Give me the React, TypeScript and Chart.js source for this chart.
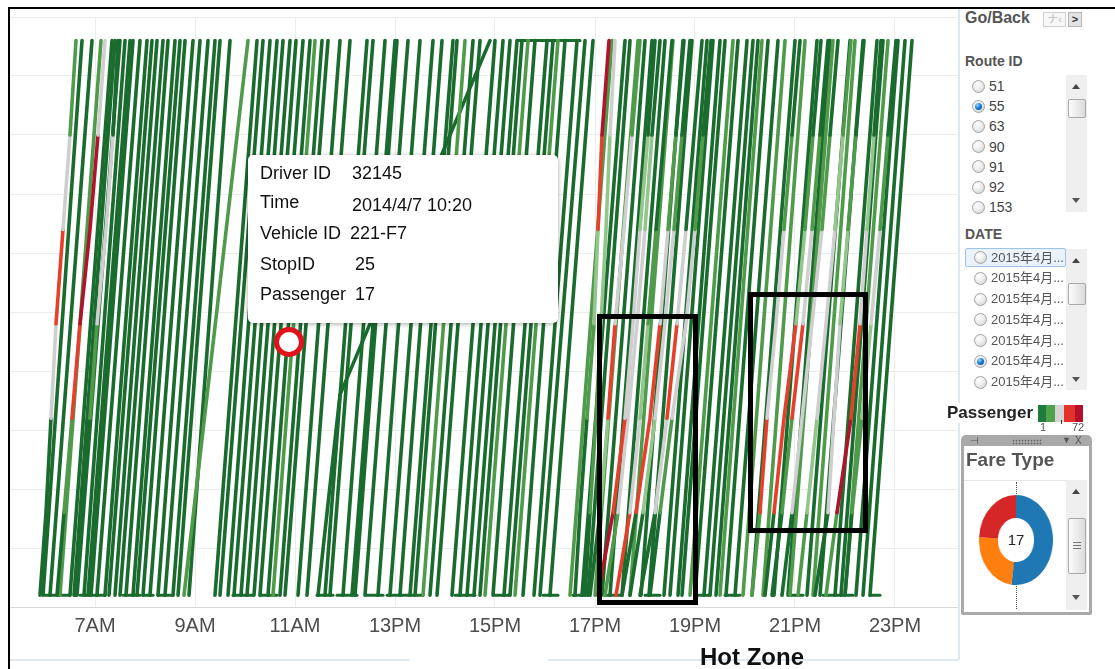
import React, { useEffect, useRef } from 'react';
import { Chart, registerables } from 'chart.js';

Chart.register(...registerables);

const FONT = '"Liberation Sans", Arial, "Noto Sans CJK SC", sans-serif';
Chart.defaults.font.family = FONT;

// ---------------- data ----------------
const hourTicks = [7, 9, 11, 13, 15, 17, 19, 21, 23];
const hourLabels = ['7AM', '9AM', '11AM', '13PM', '15PM', '17PM', '19PM', '21PM', '23PM'];

const FIRST_STOP = 1;
const LAST_STOP = 48;

// [depart hour at first stop, arrive hour at last stop]
const darkTrips: [number, number][] = [
  [5.96, 6.74], [6.10, 6.94], [6.50, 7.34], [6.58, 7.40], [6.64, 7.50], [6.78, 7.60], [6.86, 7.70],
  [6.92, 7.76], [7.04, 7.90], [7.20, 8.04], [7.28, 8.14], [7.40, 8.24], [7.50, 8.36], [7.62, 8.46],
  [7.76, 8.60], [7.84, 8.70], [7.96, 8.80], [8.10, 8.96], [8.26, 9.10], [8.40, 9.26], [8.56, 9.40],
  [8.66, 9.50], [8.88, 9.70], [9.40, 10.24], [9.50, 10.36], [9.66, 10.50], [9.78, 10.64], [9.92, 10.76],
  [10.04, 10.90], [10.18, 11.02], [10.30, 11.16], [10.46, 11.30], [10.70, 11.54], [10.80, 11.66],
  [11.06, 11.90], [11.24, 12.10], [11.60, 12.44], [11.70, 12.56], [11.96, 12.80], [12.14, 13.00],
  [12.20, 13.04], [12.40, 13.26], [12.66, 13.50], [12.90, 13.76], [13.10, 13.94], [13.30, 14.16],
  [13.40, 14.24], [13.70, 14.56], [13.84, 14.70], [14.14, 15.00], [14.30, 15.16], [14.44, 15.30],
  [14.58, 15.44], [14.70, 15.54], [14.96, 15.80], [15.18, 16.04], [15.30, 16.16], [15.56, 16.40],
  [15.78, 16.64], [15.90, 16.80], [16.10, 16.96],
  [16.74, 17.60], [16.86, 17.70], [17.14, 18.00], [17.30, 18.14], [17.54, 18.40], [17.92, 18.76],
  [18.08, 18.94], [18.38, 19.24], [18.50, 19.36], [18.66, 19.50], [18.74, 19.60], [19.00, 19.86],
  [19.18, 20.04], [19.30, 20.16], [19.42, 20.26], [19.62, 20.46], [19.80, 20.66], [20.14, 21.00],
  [20.58, 21.44], [20.86, 21.70], [21.24, 22.10], [21.50, 22.36], [21.80, 22.64], [21.92, 22.76],
  [22.22, 23.06], [22.36, 23.20], [22.50, 23.34],
];

const midTrips: [number, number][] = [
  [6.30, 7.12], [8.78, 10.06], [10.56, 11.40], [13.56, 14.40], [14.80, 15.66], [15.40, 16.26],
  [16.50, 17.34], [17.00, 17.86], [17.70, 18.56], [18.90, 19.76], [19.50, 20.34], [19.96, 20.80],
  [20.36, 21.20], [20.90, 21.76], [21.36, 22.20], [22.00, 22.86],
];

// a slow trip: [hour, stop]
const slowTrip: [number, number][] = [[11.46, 1], [11.90, 18], [14.90, 48]];

// vehicles waiting at a terminal: [from hour, to hour]
const bottomLayovers: [number, number][] = [
  [6.0, 6.5], [6.7, 7.2], [7.56, 7.9], [7.96, 8.16], [8.26, 8.56], [9.76, 10.16], [10.3, 10.64],
  [11.44, 11.76], [11.84, 12.24], [12.44, 12.76], [12.84, 13.56], [14.2, 14.6], [15.0, 15.3],
  [15.96, 16.26], [16.56, 16.84], [17.2, 17.5], [18.0, 18.3], [19.0, 19.3], [19.6, 19.9],
  [20.9, 21.16], [21.56, 22.16], [22.5, 22.7],
];
const topLayovers: [number, number][] = [[15.44, 16.70]];

// crowded trips, hour when passing each checkpoint stop, and load shade per leg
const hotStops = [1, 8, 16, 24, 32, 40, 48];
const hotTripHours: number[][] = [
  [5.90, 6.02, 6.12, 6.22, 6.36, 6.50, 6.62],
  [6.24, 6.38, 6.54, 6.70, 6.90, 7.06, 7.20],
  [6.60, 6.74, 6.90, 7.04, 7.22, 7.36, 7.46],
  [17.06, 17.36, 17.60, 17.76, 17.90, 18.06, 18.20],
  [16.60, 16.70, 16.84, 16.98, 17.06, 17.14, 17.28],
  [16.80, 16.90, 17.02, 17.12, 17.22, 17.30, 17.40],
  [17.54, 17.82, 18.10, 18.30, 18.46, 18.62, 18.78],
  [17.42, 17.70, 17.90, 18.06, 18.22, 18.38, 18.54],
  [17.90, 18.20, 18.44, 18.64, 18.82, 18.98, 19.14],
  [18.10, 18.30, 18.54, 18.82, 19.00, 19.16, 19.32],
  [16.90, 17.10, 17.26, 17.40, 17.58, 17.74, 17.90],
  [17.20, 17.46, 17.66, 17.84, 18.00, 18.14, 18.30],
  [17.70, 17.96, 18.20, 18.40, 18.58, 18.74, 18.90],
  [20.14, 20.30, 20.44, 20.62, 20.78, 20.94, 21.10],
  [20.40, 20.58, 20.78, 21.02, 21.20, 21.36, 21.52],
  [20.54, 20.74, 20.94, 21.16, 21.34, 21.50, 21.66],
  [21.62, 21.84, 22.12, 22.30, 22.44, 22.58, 22.72],
  [20.74, 20.94, 21.14, 21.34, 21.54, 21.70, 21.86],
  [21.40, 21.66, 21.78, 21.90, 22.06, 22.22, 22.38],
  [22.00, 22.14, 22.34, 22.52, 22.70, 22.86, 23.02],
  [21.06, 21.24, 21.44, 21.62, 21.80, 21.96, 22.12],
];
const hotTripShades: string[][] = [
  ['dg', 'dg', 'gray', 'red', 'gray', 'mg'],
  ['dg', 'mg', 'red', 'darkred', 'darkred', 'gray'],
  ['dg', 'dg', 'mg', 'gray', 'gray', 'dg'],
  ['darkred', 'red', 'gray', 'gray', 'lg', 'dg'],
  ['dg', 'dg', 'mg', 'lg', 'red', 'darkred'],
  ['dg', 'mg', 'mg', 'lg', 'lg', 'gray'],
  ['dg', 'red', 'red', 'gray', 'mg', 'dg'],
  ['red', 'gray', 'lg', 'mg', 'dg', 'dg'],
  ['dg', 'gray', 'red', 'gray', 'dg', 'dg'],
  ['dg', 'mg', 'gray', 'gray', 'mg', 'dg'],
  ['dg', 'lg', 'red', 'gray', 'gray', 'mg'],
  ['mg', 'gray', 'gray', 'gray', 'lg', 'dg'],
  ['dg', 'lg', 'gray', 'gray', 'mg', 'dg'],
  ['mg', 'red', 'gray', 'gray', 'mg', 'dg'],
  ['dg', 'red', 'red', 'lg', 'mg', 'dg'],
  ['dg', 'mg', 'red', 'gray', 'mg', 'dg'],
  ['mg', 'darkred', 'red', 'gray', 'lg', 'dg'],
  ['dg', 'gray', 'gray', 'gray', 'mg', 'dg'],
  ['dg', 'gray', 'gray', 'lg', 'mg', 'dg'],
  ['dg', 'mg', 'lg', 'gray', 'mg', 'dg'],
  ['mg', 'lg', 'gray', 'gray', 'lg', 'mg'],
];

// [from hour, to hour, from stop, to stop]
const hotZones: [number, number, number, number][] = [
  [17.09, 19.01, 0.38, 24.62],
  [20.11, 22.41, 6.48, 26.48],
];
const highlightPoint = { x: 10.88, y: 22.46 };

const shadeColors: Record<string, string> = {
  dg: '#1a6b2e',
  mg: '#4f9b4b',
  lg: '#93c58d',
  gray: '#cfcfcf',
  red: '#e6402d',
  darkred: '#b0132c',
};
const legendRamp = ['#1e7b3a', '#4ea24b', '#d4d4d4', '#e4322a', '#b3102e'];

const fareTypeLabels = ['Full fare', 'Student', 'Senior'];
const fareTypeValues = [52, 24, 24];
const fareTypeColors = ['#1f77b4', '#ff7f0e', '#d62728'];
const fareTotal = '17';

const routeIds = ['51', '55', '63', '90', '91', '92', '153'];
const selectedRoute = '55';
const dateItems = ['2015年4月...', '2015年4月...', '2015年4月...', '2015年4月...', '2015年4月...', '2015年4月...', '2015年4月...'];
const selectedDate = 5;

const tooltipRows: [string, string][] = [
  ['Driver ID', '32145'],
  ['Time', '2014/4/7 10:20'],
  ['Vehicle ID', '221-F7'],
  ['StopID', '25'],
  ['Passenger', '17'],
];

// ---------------- chart configs ----------------
function lineSet(points: [number, number][], color: string, order: number, width = 3.6): any {
  return {
    type: 'line',
    data: points.map(([x, y]) => ({ x, y })),
    borderColor: color,
    borderWidth: width,
    pointRadius: 0,
    pointHoverRadius: 0,
    fill: false,
    tension: 0,
    borderCapStyle: 'round',
    borderJoinStyle: 'round',
    order,
  };
}

const hotZonePlugin = {
  id: 'hotZones',
  afterDatasetsDraw(chart: any) {
    const { ctx, scales } = chart;
    const xs = scales.x;
    const ys = scales.y;
    ctx.save();
    ctx.strokeStyle = '#000';
    ctx.lineWidth = 5;
    hotZones.forEach(([h1, h2, s1, s2]) => {
      const x1 = xs.getPixelForValue(h1);
      const x2 = xs.getPixelForValue(h2);
      const y1 = ys.getPixelForValue(s2);
      const y2 = ys.getPixelForValue(s1);
      ctx.strokeRect(x1, y1, x2 - x1, y2 - y1);
    });
    ctx.restore();
  },
};

function mainConfig(): any {
  const datasets: any[] = [];
  datasets.push({
    type: 'line',
    data: [highlightPoint],
    showLine: false,
    pointRadius: 12.5,
    pointHoverRadius: 12.5,
    pointBorderWidth: 5,
    pointBorderColor: '#e2121c',
    pointBackgroundColor: '#ffffff',
    clip: false,
    order: 0,
  });
  hotTripHours.forEach((hours, i) => {
    const shades = hotTripShades[i];
    datasets.push({
      ...lineSet(hours.map((h, k) => [h, hotStops[k]] as [number, number]), shadeColors.dg, 1),
      segment: { borderColor: (c: any) => shadeColors[shades[c.p0DataIndex]] },
    });
  });
  midTrips.forEach(([d, a]) => datasets.push(lineSet([[d, FIRST_STOP], [a, LAST_STOP]], shadeColors.mg, 2)));
  darkTrips.forEach(([d, a]) => datasets.push(lineSet([[d, FIRST_STOP], [a, LAST_STOP]], shadeColors.dg, 3)));
  datasets.push(lineSet(slowTrip, shadeColors.dg, 3));
  bottomLayovers.forEach(([a, b]) => datasets.push(lineSet([[a, FIRST_STOP], [b, FIRST_STOP]], shadeColors.dg, 3, 3)));
  topLayovers.forEach(([a, b]) => datasets.push(lineSet([[a, LAST_STOP], [b, LAST_STOP]], shadeColors.dg, 3, 3)));

  return {
    type: 'line',
    data: { datasets },
    options: {
      animation: false,
      responsive: false,
      maintainAspectRatio: false,
      events: [],
      layout: { padding: 0, autoPadding: false },
      plugins: { legend: { display: false }, tooltip: { enabled: false } },
      scales: {
        x: {
          type: 'linear',
          min: 5.3,
          max: 24.26,
          afterBuildTicks: (s: any) => {
            s.ticks = hourTicks.map((v) => ({ value: v }));
          },
          afterFit: (s: any) => {
            s.height = 40;
          },
          ticks: {
            autoSkip: false,
            maxRotation: 0,
            padding: 7,
            color: '#4d4d4d',
            font: { size: 20, family: FONT },
            callback: (_v: any, i: number) => hourLabels[i],
          },
          grid: { color: '#ececec', drawTicks: false, lineWidth: 1 },
          border: { color: '#d8d8d8', width: 1 },
        },
        y: {
          type: 'linear',
          min: 0,
          max: 50,
          afterFit: (s: any) => {
            s.width = 0;
          },
          ticks: { display: false, stepSize: 5 },
          grid: { color: '#ececec', drawTicks: false, lineWidth: 1 },
          border: { display: false },
        },
      },
    },
    plugins: [hotZonePlugin],
  };
}

function donutConfig(): any {
  return {
    type: 'doughnut',
    data: {
      labels: fareTypeLabels,
      datasets: [{ data: fareTypeValues, backgroundColor: fareTypeColors, borderWidth: 0 }],
    },
    options: {
      animation: false,
      responsive: false,
      maintainAspectRatio: false,
      events: [],
      cutout: '49%',
      layout: { padding: 0, autoPadding: false },
      plugins: { legend: { display: false }, tooltip: { enabled: false } },
    },
  };
}

// ---------------- UI pieces ----------------
const abs = (s: React.CSSProperties): React.CSSProperties => ({ position: 'absolute', ...s });

function Radio({ x, y, checked }: { x: number; y: number; checked: boolean }) {
  return (
    <div
      style={abs({
        left: x - 6.5,
        top: y - 6.5,
        width: 13,
        height: 13,
        boxSizing: 'border-box',
        borderRadius: '50%',
        border: '1px solid #a3a3a3',
        background: 'radial-gradient(circle at 35% 30%, #ffffff 0%, #ececec 50%, #c8c8c8 100%)',
      })}
    >
      {checked && (
        <div
          style={abs({
            left: 2,
            top: 2,
            width: 7,
            height: 7,
            borderRadius: '50%',
            background: 'radial-gradient(circle at 35% 30%, #9ad6ff 0%, #1c7fd6 45%, #0a3f8a 100%)',
          })}
        />
      )}
    </div>
  );
}

function Scroll({ top, bottom, thumbTop, thumbH, upY, downY, grip }: any) {
  return (
    <>
      <div style={abs({ left: 1066, top, width: 21, height: bottom - top, background: '#efefef' })} />
      <div
        style={abs({
          left: 1072,
          top: upY - 3,
          width: 0,
          height: 0,
          borderLeft: '4px solid transparent',
          borderRight: '4px solid transparent',
          borderBottom: '5px solid #444',
        })}
      />
      <div
        style={abs({
          left: 1072,
          top: downY - 2,
          width: 0,
          height: 0,
          borderLeft: '4px solid transparent',
          borderRight: '4px solid transparent',
          borderTop: '5px solid #555',
        })}
      />
      <div
        style={abs({
          left: 1068,
          top: thumbTop,
          width: 18,
          height: thumbH,
          boxSizing: 'border-box',
          border: '1px solid #a8a8a8',
          borderRadius: 2,
          background: 'linear-gradient(to right, #fbfbfb, #dcdcdc)',
        })}
      >
        {grip && (
          <div style={abs({ left: 4, top: thumbH / 2 - 5, width: 8, height: 9 })}>
            {[0, 3, 6].map((o) => (
              <div key={o} style={abs({ left: 0, top: o, width: 8, height: 1, background: '#777' })} />
            ))}
          </div>
        )}
      </div>
    </>
  );
}

export default function App() {
  const mainRef = useRef<HTMLCanvasElement>(null);
  const donutRef = useRef<HTMLCanvasElement>(null);

  useEffect(() => {
    const main = new Chart(mainRef.current as HTMLCanvasElement, mainConfig());
    const donut = new Chart(donutRef.current as HTMLCanvasElement, donutConfig());
    return () => {
      main.destroy();
      donut.destroy();
    };
  }, []);

  return (
    <div
      style={{
        position: 'fixed',
        left: 0,
        top: 0,
        width: 1115,
        height: 669,
        overflow: 'hidden',
        background: '#ffffff',
        fontFamily: FONT,
      }}
    >
      {/* frame */}
      <div style={abs({ left: 8, top: 7, width: 1107, height: 2, background: '#000' })} />
      <div style={abs({ left: 8, top: 7, width: 2, height: 662, background: '#000' })} />
      <div style={abs({ left: 958, top: 9, width: 2, height: 651, background: '#dbe7f1' })} />
      <div style={abs({ left: 10, top: 659, width: 400, height: 2, background: '#e1e9f0' })} />
      <div style={abs({ left: 548, top: 659, width: 410, height: 2, background: '#e1e9f0' })} />

      {/* main chart */}
      <div style={abs({ left: 10, top: 17, width: 948, height: 630 })}>
        <canvas ref={mainRef} width={948} height={630} style={{ width: 948, height: 630, display: 'block' }} />
      </div>

      {/* tooltip */}
      <div
        style={abs({
          left: 248,
          top: 155,
          width: 310,
          height: 168,
          background: '#ffffff',
          borderRadius: 5,
          boxShadow: '0 1px 5px rgba(0,0,0,0.35)',
        })}
      />
      {tooltipRows.map(([k, v], i) => {
        const y = [173, 202, 233, 264, 294][i];
        const vx = [352, 352, 350, 355, 355][i];
        const vy = i === 1 ? y + 3 : y;
        return (
          <React.Fragment key={k}>
            <div style={abs({ left: 260, top: y - 11, fontSize: 18, lineHeight: '22px', color: '#111', whiteSpace: 'nowrap' })}>{k}</div>
            <div style={abs({ left: vx, top: vy - 11, fontSize: 18, lineHeight: '22px', color: '#111', whiteSpace: 'nowrap' })}>{v}</div>
          </React.Fragment>
        );
      })}

      <div style={abs({ left: 700, top: 645, fontSize: 24, fontWeight: 'bold', lineHeight: '24px', color: '#111', whiteSpace: 'nowrap' })}>
        Hot Zone
      </div>

      {/* right panel */}
      <div style={abs({ left: 965, top: 9, fontSize: 16, fontWeight: 'bold', color: '#555', lineHeight: '18px' })}>Go/Back</div>
      <div
        style={abs({
          left: 1043,
          top: 12,
          width: 23,
          height: 15,
          boxSizing: 'border-box',
          border: '1px solid #d0d0d0',
          background: '#f7f7f7',
          fontSize: 11,
          lineHeight: '13px',
          color: '#bdbdbd',
          textAlign: 'center',
        })}
      >
        ナ‹
      </div>
      <div
        style={abs({
          left: 1068,
          top: 12,
          width: 14,
          height: 15,
          boxSizing: 'border-box',
          border: '1px solid #b5b5b5',
          background: '#e3e3e3',
          fontSize: 11,
          fontWeight: 'bold',
          lineHeight: '13px',
          color: '#333',
          textAlign: 'center',
        })}
      >
        {'>'}
      </div>

      <div style={abs({ left: 965, top: 53, fontSize: 14, fontWeight: 'bold', color: '#555', lineHeight: '16px' })}>Route ID</div>
      <Scroll top={75} bottom={212} thumbTop={99} thumbH={19} upY={87} downY={200} />
      {routeIds.map((r, i) => {
        const y = 86 + i * 20.2;
        return (
          <React.Fragment key={r}>
            <Radio x={978} y={y} checked={r === selectedRoute} />
            <div style={abs({ left: 989, top: y - 9, fontSize: 14, lineHeight: '18px', color: '#444' })}>{r}</div>
          </React.Fragment>
        );
      })}

      <div style={abs({ left: 965, top: 226, fontSize: 14, fontWeight: 'bold', color: '#555', lineHeight: '16px' })}>DATE</div>
      <div
        style={abs({
          left: 965,
          top: 248,
          width: 101,
          height: 19,
          boxSizing: 'border-box',
          border: '1px solid #9fc3e7',
          borderRadius: 2,
          background: '#eaf2fb',
        })}
      />
      <Scroll top={249} bottom={390} thumbTop={283} thumbH={22} upY={261} downY={379} />
      {dateItems.map((d, i) => {
        const y = 257.5 + i * 20.75;
        return (
          <React.Fragment key={i}>
            <Radio x={980} y={y} checked={i === selectedDate} />
            <div style={abs({ left: 991, top: y - 9, fontSize: 13, lineHeight: '18px', color: '#555', whiteSpace: 'nowrap' })}>{d}</div>
          </React.Fragment>
        );
      })}

      <div
        style={abs({
          left: 947,
          top: 403,
          fontSize: 17,
          fontWeight: 'bold',
          color: '#222',
          lineHeight: '20px',
          background: '#fff',
          paddingRight: 2,
        })}
      >
        Passenger
      </div>
      {legendRamp.map((c, i) => {
        const lefts = [1038, 1046, 1055, 1064, 1075];
        const widths = [8, 9, 9, 11, 8];
        return <div key={c} style={abs({ left: lefts[i], top: 405, width: widths[i], height: 17, background: c })} />;
      })}
      <div style={abs({ left: 1061, top: 420, width: 1, height: 4, background: '#333' })} />
      <div style={abs({ left: 1040, top: 421, fontSize: 11, lineHeight: '12px', color: '#555' })}>1</div>
      <div style={abs({ left: 1072, top: 421, fontSize: 11, lineHeight: '12px', color: '#555' })}>72</div>

      {/* fare type panel */}
      <div
        style={abs({
          left: 961,
          top: 435,
          width: 131,
          height: 180,
          boxSizing: 'border-box',
          border: '3px solid #a9a9a9',
          borderRadius: '5px 5px 2px 2px',
          background: '#fff',
        })}
      >
        <div style={abs({ left: 0, top: 0, right: 0, height: 8, background: '#a9a9a9' })} />
        <div style={abs({ left: 6, top: -3, fontSize: 10, lineHeight: '11px', color: '#555' })}>⊣</div>
        <div
          style={abs({
            left: 48,
            top: 1,
            width: 30,
            height: 6,
            backgroundImage: 'radial-gradient(#666 0.8px, transparent 1.1px)',
            backgroundSize: '3px 3px',
          })}
        />
        <div style={abs({ left: 98, top: -3, fontSize: 9, lineHeight: '11px', color: '#555' })}>▼</div>
        <div style={abs({ left: 111, top: -3, fontSize: 10, lineHeight: '11px', color: '#555' })}>X</div>
      </div>
      <div style={abs({ left: 966, top: 449, fontSize: 19, fontWeight: 'bold', color: '#555', lineHeight: '22px' })}>Fare Type</div>
      <div style={abs({ left: 964, top: 480, width: 103, height: 130, borderTop: '1px solid #e3e3e3' })} />
      <Scroll top={480} bottom={610} thumbTop={518} thumbH={56} upY={492} downY={597} grip />
      <div style={abs({ left: 1016, top: 482, width: 0, height: 14, borderLeft: '1px dotted #555' })} />
      <div style={abs({ left: 1016, top: 584, width: 0, height: 25, borderLeft: '1px dotted #555' })} />
      <div style={abs({ left: 971, top: 495, width: 90, height: 90, transform: 'scaleX(0.822)', transformOrigin: '50% 50%' })}>
        <canvas ref={donutRef} width={90} height={90} style={{ width: 90, height: 90, display: 'block' }} />
      </div>
      <div style={abs({ left: 1004, top: 531, width: 24, textAlign: 'center', fontSize: 15, lineHeight: '18px', color: '#222' })}>
        {fareTotal}
      </div>
    </div>
  );
}
